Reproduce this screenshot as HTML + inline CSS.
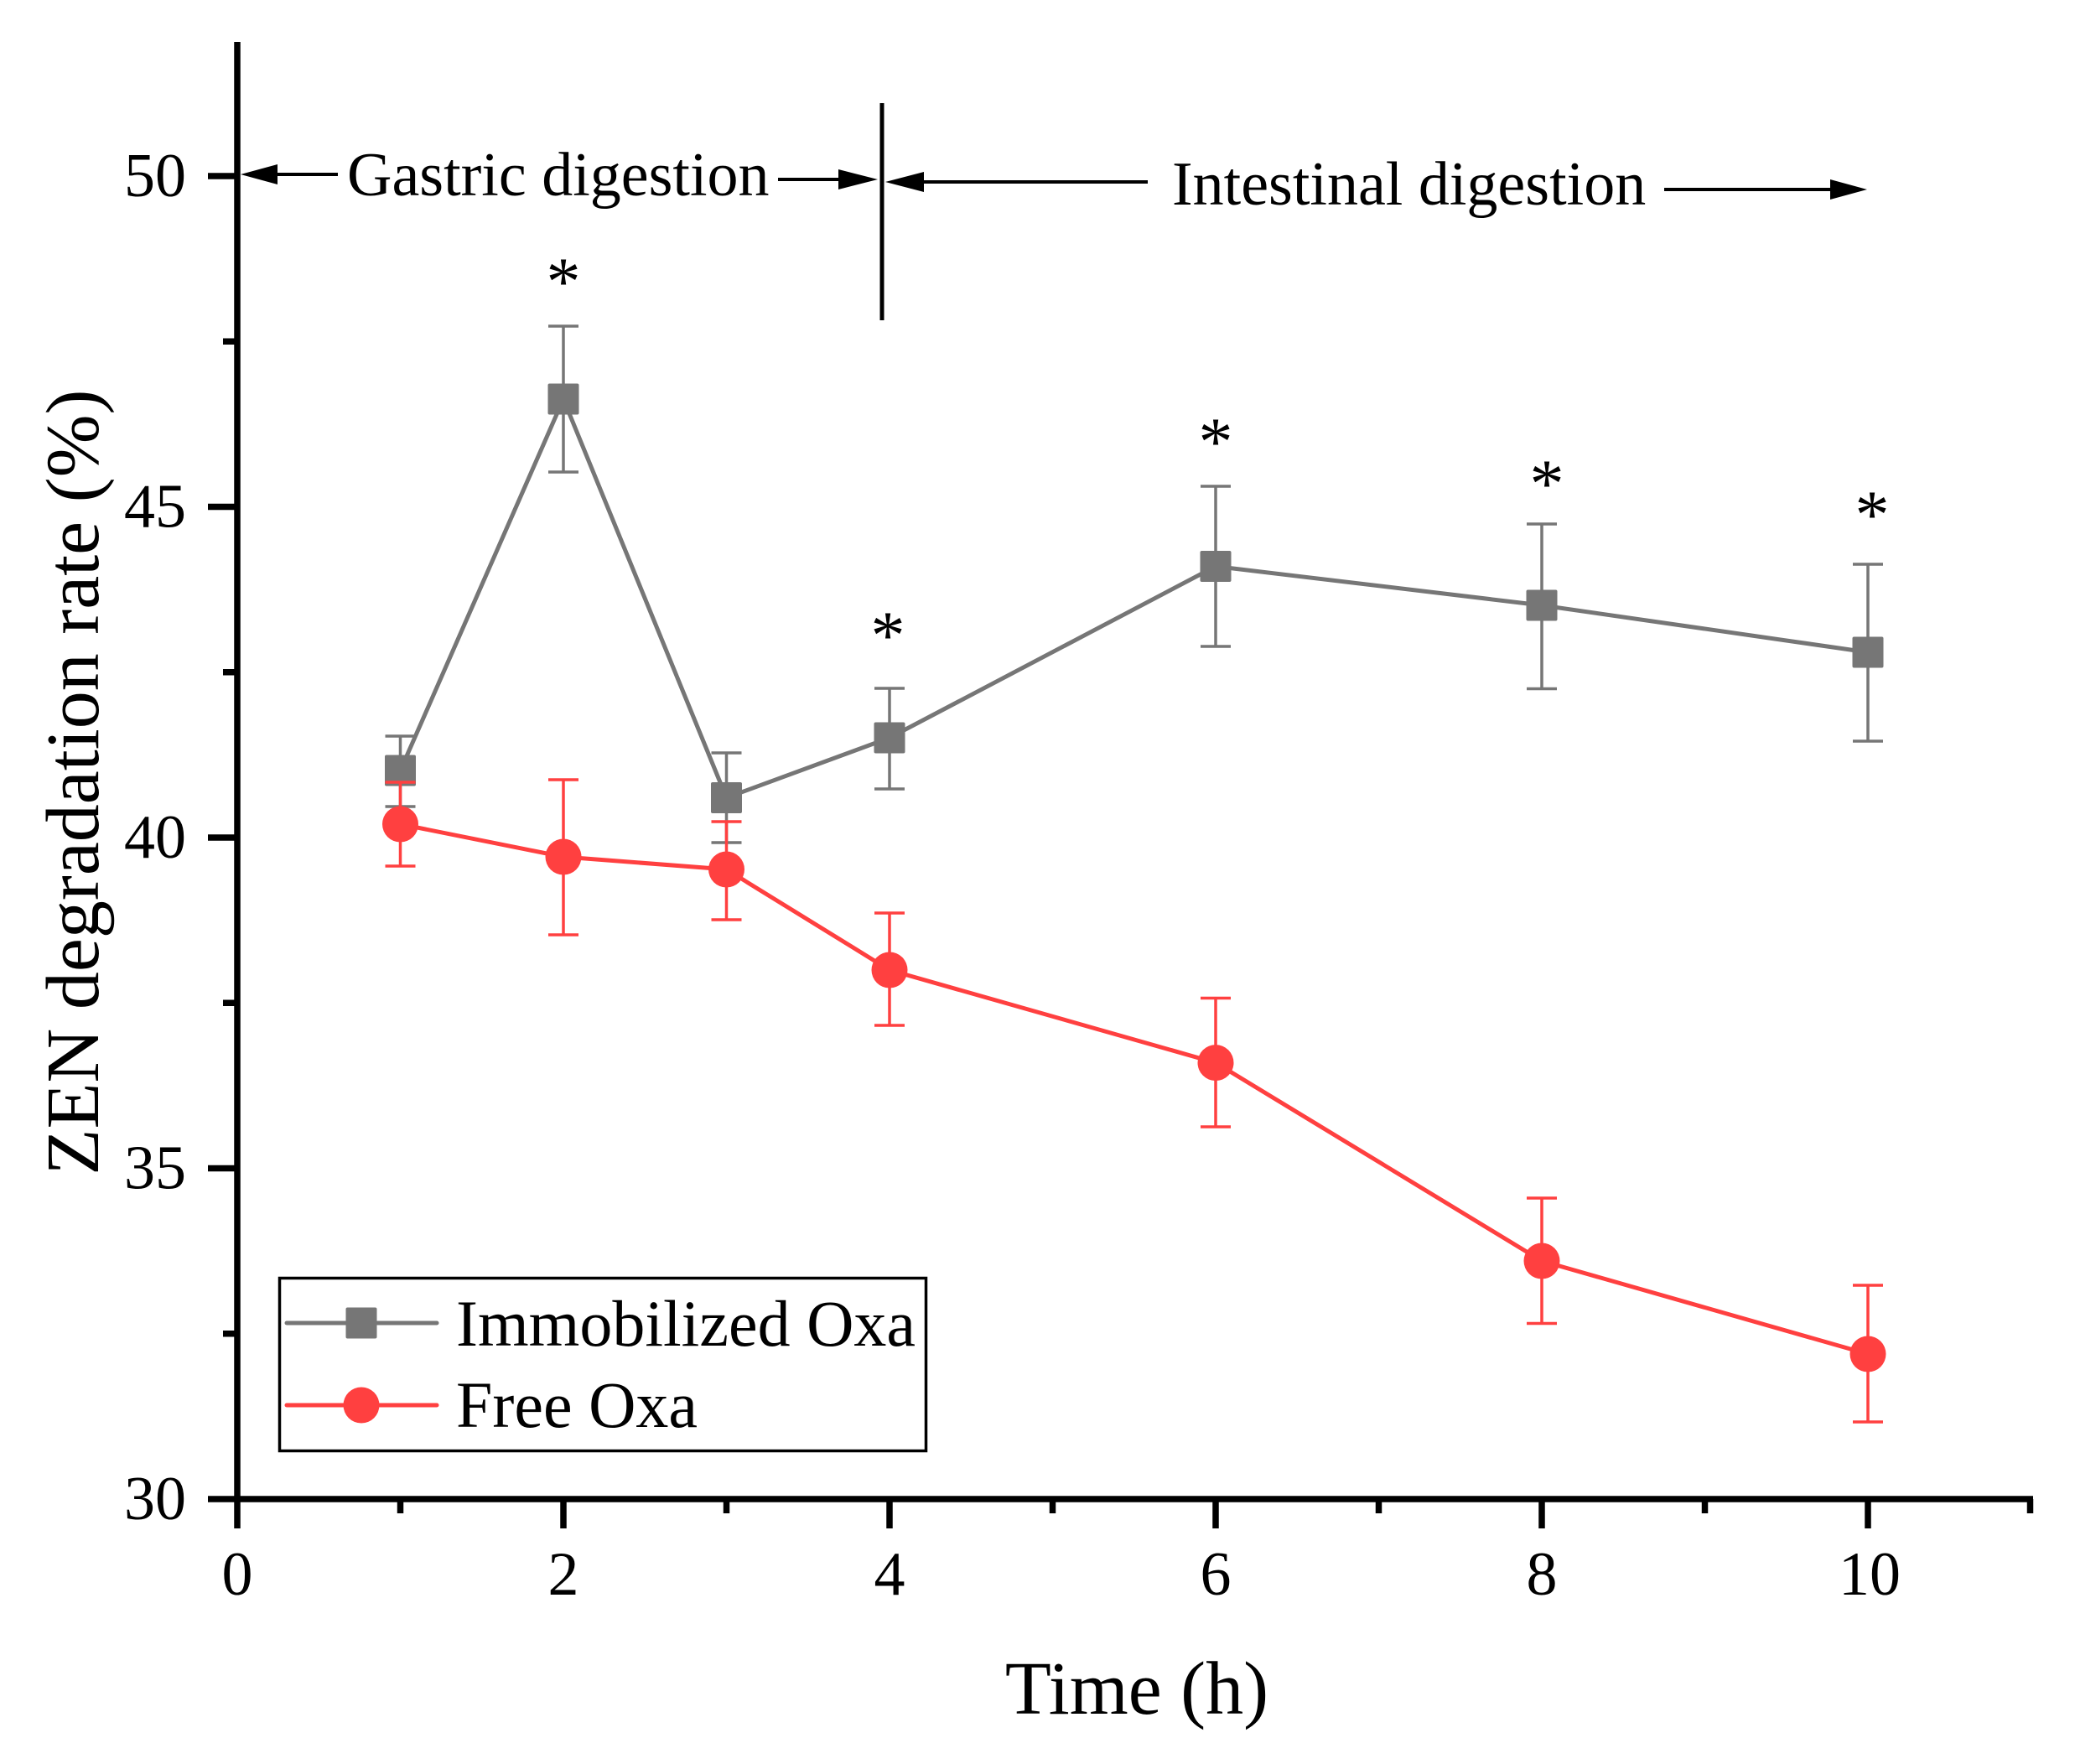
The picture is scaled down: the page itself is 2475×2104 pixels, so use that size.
<!DOCTYPE html>
<html>
<head>
<meta charset="utf-8">
<style>
html,body{margin:0;padding:0;background:#fff;}
svg{display:block;}
text{font-family:"Liberation Serif","Times New Roman",serif;fill:#000;}
</style>
</head>
<body>
<svg width="2475" height="2104" viewBox="0 0 2475 2104" xmlns="http://www.w3.org/2000/svg">
<rect width="2475" height="2104" fill="#fff"/>

<!-- Axes -->
<g stroke="#000" stroke-width="7.5" fill="none" stroke-linecap="butt">
  <line x1="283" y1="50" x2="283" y2="1791.5"/>
  <line x1="279.5" y1="1788" x2="2425" y2="1788"/>
  <!-- y major ticks -->
  <line x1="248" y1="1788" x2="283" y2="1788"/>
  <line x1="248" y1="1393.5" x2="283" y2="1393.5"/>
  <line x1="248" y1="999" x2="283" y2="999"/>
  <line x1="248" y1="604.5" x2="283" y2="604.5"/>
  <line x1="248" y1="210" x2="283" y2="210"/>
  <!-- y minor ticks -->
  <line x1="266" y1="1590.75" x2="283" y2="1590.75"/>
  <line x1="266" y1="1196.25" x2="283" y2="1196.25"/>
  <line x1="266" y1="801.75" x2="283" y2="801.75"/>
  <line x1="266" y1="407.25" x2="283" y2="407.25"/>
  <!-- x major ticks -->
  <line x1="283" y1="1788" x2="283" y2="1823"/>
  <line x1="672" y1="1788" x2="672" y2="1823"/>
  <line x1="1061" y1="1788" x2="1061" y2="1823"/>
  <line x1="1450" y1="1788" x2="1450" y2="1823"/>
  <line x1="1839" y1="1788" x2="1839" y2="1823"/>
  <line x1="2228" y1="1788" x2="2228" y2="1823"/>
  <!-- x minor ticks -->
  <line x1="477.5" y1="1788" x2="477.5" y2="1805"/>
  <line x1="866.5" y1="1788" x2="866.5" y2="1805"/>
  <line x1="1255.5" y1="1788" x2="1255.5" y2="1805"/>
  <line x1="1644.5" y1="1788" x2="1644.5" y2="1805"/>
  <line x1="2033.5" y1="1788" x2="2033.5" y2="1805"/>
  <line x1="2421.5" y1="1788" x2="2421.5" y2="1805"/>
</g>

<!-- Tick labels -->
<g font-size="74" text-anchor="end">
  <text x="222" y="1812">30</text>
  <text x="222" y="1417.5">35</text>
  <text x="222" y="1023">40</text>
  <text x="222" y="628.5">45</text>
  <text x="222" y="234">50</text>
</g>
<g font-size="74" text-anchor="middle">
  <text x="283" y="1902">0</text>
  <text x="672" y="1902">2</text>
  <text x="1061" y="1902">4</text>
  <text x="1450" y="1902">6</text>
  <text x="1839" y="1902">8</text>
  <text x="2230" y="1902">10</text>
</g>

<!-- Axis titles -->
<text x="1356" y="2044" font-size="90" text-anchor="middle">Time (h)</text>
<text transform="translate(117,933) rotate(-90)" font-size="90" text-anchor="middle">ZEN degradation rate (%)</text>

<!-- Annotations -->
<g stroke="#000" stroke-width="4">
  <line x1="325" y1="208" x2="403" y2="208"/>
  <line x1="928" y1="214" x2="1002" y2="214"/>
  <line x1="1098" y1="217" x2="1369" y2="217"/>
  <line x1="1985" y1="226" x2="2186" y2="226"/>
</g>
<line x1="1052" y1="123" x2="1052" y2="382" stroke="#000" stroke-width="5"/>
<g fill="#000">
  <polygon points="287,208 331,196 331,220"/>
  <polygon points="1000,202 1047,214 1000,226"/>
  <polygon points="1056,217 1102,205 1102,229"/>
  <polygon points="2183,214 2227,226 2183,238"/>
</g>
<text x="414" y="233" font-size="74">Gastric digestion</text>
<text x="1398" y="244" font-size="74">Intestinal digestion</text>

<!-- Gray series: Immobilized Oxa -->
<g stroke="#767676" fill="none">
  <polyline stroke-width="5" stroke-linejoin="round" points="477.5,919 672,476 866.5,951.5 1061,880 1450,675.5 1839,722 2228,778"/>
  <g stroke-width="3.5">
    <path d="M477.5,878V962M459.5,878H495.5M459.5,962H495.5"/>
    <path d="M672,389V563M654,389H690M654,563H690"/>
    <path d="M866.5,898V1005M848.5,898H884.5M848.5,1005H884.5"/>
    <path d="M1061,821V941M1043,821H1079M1043,941H1079"/>
    <path d="M1450,580V771M1432,580H1468M1432,771H1468"/>
    <path d="M1839,625V821.5M1821,625H1857M1821,821.5H1857"/>
    <path d="M2228,673V884M2210,673H2246M2210,884H2246"/>
  </g>
</g>
<g fill="#767676">
  <rect x="459" y="900.5" width="37" height="37" rx="2"/>
  <rect x="653.5" y="457.5" width="37" height="37" rx="2"/>
  <rect x="848" y="933" width="37" height="37" rx="2"/>
  <rect x="1042.5" y="861.5" width="37" height="37" rx="2"/>
  <rect x="1431.5" y="657" width="37" height="37" rx="2"/>
  <rect x="1820.5" y="703.5" width="37" height="37" rx="2"/>
  <rect x="2209.5" y="759.5" width="37" height="37" rx="2"/>
</g>

<!-- Red series: Free Oxa -->
<g stroke="#ff4040" fill="none">
  <polyline stroke-width="5" stroke-linejoin="round" points="477.5,983 672,1022 866.5,1037 1061,1157 1450,1267.6 1839,1504 2228,1615"/>
  <g stroke-width="3.5">
    <path d="M477.5,933V1033M459.5,933H495.5M459.5,1033H495.5"/>
    <path d="M672,930V1115M654,930H690M654,1115H690"/>
    <path d="M866.5,980V1097M848.5,980H884.5M848.5,1097H884.5"/>
    <path d="M1061,1089V1223M1043,1089H1079M1043,1223H1079"/>
    <path d="M1450,1190.5V1344M1432,1190.5H1468M1432,1344H1468"/>
    <path d="M1839,1429V1578.5M1821,1429H1857M1821,1578.5H1857"/>
    <path d="M2228,1533V1696M2210,1533H2246M2210,1696H2246"/>
  </g>
</g>
<g fill="#ff4040">
  <circle cx="477.5" cy="983" r="21.5"/>
  <circle cx="672" cy="1022" r="21.5"/>
  <circle cx="866.5" cy="1037" r="21.5"/>
  <circle cx="1061" cy="1157" r="21.5"/>
  <circle cx="1450" cy="1267.6" r="21.5"/>
  <circle cx="1839" cy="1504" r="21.5"/>
  <circle cx="2228" cy="1615" r="21.5"/>
</g>

<!-- Asterisks -->
<g font-size="82" text-anchor="middle">
  <text x="672" y="363">*</text>
  <text x="1059" y="785">*</text>
  <text x="1450" y="554">*</text>
  <text x="1845" y="604">*</text>
  <text x="2233" y="641">*</text>
</g>

<!-- Legend -->
<rect x="333.5" y="1524.5" width="771" height="206" fill="#fff" stroke="#000" stroke-width="3.5"/>
<line x1="342" y1="1578" x2="521" y2="1578" stroke="#767676" stroke-width="5" stroke-linecap="round"/>
<rect x="412.5" y="1559.5" width="37" height="37" rx="2" fill="#767676"/>
<line x1="342" y1="1676" x2="521" y2="1676" stroke="#ff4040" stroke-width="5" stroke-linecap="round"/>
<circle cx="431" cy="1676" r="21.5" fill="#ff4040"/>
<text x="544" y="1605" font-size="78">Immobilized Oxa</text>
<text x="544" y="1702" font-size="78">Free Oxa</text>
</svg>
</body>
</html>
